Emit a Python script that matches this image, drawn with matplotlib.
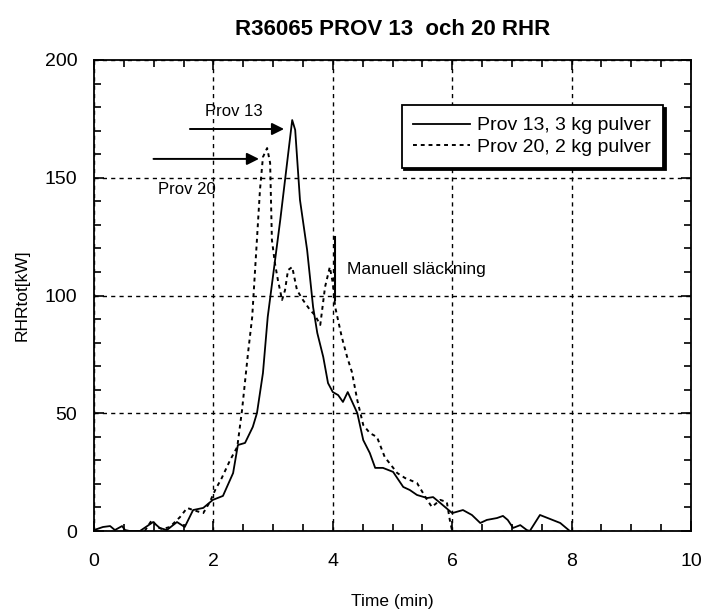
import matplotlib
matplotlib.use("Agg")
import matplotlib.pyplot as plt
from matplotlib.ticker import MultipleLocator

plt.rcParams['font.family'] = ['Liberation Sans', 'DejaVu Sans']

# ---- data ----
t13 = [0.0, 0.15, 0.27, 0.35, 0.47, 0.52, 0.6, 0.77, 0.99, 1.1, 1.22, 1.39, 1.52, 1.66,
       1.83, 1.99, 2.16, 2.33, 2.41, 2.53, 2.66, 2.73, 2.83, 2.91, 3.12, 3.32, 3.37, 3.45,
       3.57, 3.67, 3.74, 3.84, 3.92, 4.0, 4.09, 4.17, 4.25, 4.41, 4.51, 4.62, 4.71, 4.84,
       5.01, 5.18, 5.29, 5.41, 5.58, 5.68, 5.80, 6.0, 6.18, 6.33, 6.47, 6.58, 6.75, 6.85,
       6.93, 7.02, 7.14, 7.25, 7.30, 7.47, 7.64, 7.81, 7.97]
rhr13 = [0.4, 1.7, 2.1, 0.4, 2.1, 0.4, 0.0, 0.0, 3.8, 1.3, 0.4, 3.8, 1.7, 8.9,
         9.8, 13.2, 14.9, 24.6, 36.5, 37.4, 44.2, 50.1, 67.1, 90.9, 132.1, 174.5, 170.3, 140.6,
         119.3, 95.1, 84.1, 73.9, 62.8, 59.0, 57.7, 54.8, 59.0, 50.1, 38.6, 33.1, 26.8, 26.8,
         25.1, 18.7, 17.4, 15.3, 14.0, 14.4, 11.9, 7.6, 8.9, 6.8, 3.4, 4.7, 5.5, 6.4,
         4.7, 1.3, 2.5, 0.4, 0.0, 6.8, 5.1, 3.4, 0.0]

t20 = [0.85, 0.97, 1.06, 1.14, 1.27, 1.44, 1.56, 1.66, 1.83, 1.94, 2.03, 2.14, 2.28, 2.40,
       2.48, 2.58, 2.65, 2.78, 2.83, 2.90, 2.95, 2.98, 3.03, 3.08, 3.15, 3.20, 3.25, 3.32,
       3.40, 3.50, 3.62, 3.70, 3.79, 3.87, 3.95, 4.0, 4.04, 4.15, 4.24, 4.32, 4.41, 4.51,
       4.62, 4.74, 4.87, 5.08, 5.21, 5.41, 5.58, 5.66, 5.80, 5.91, 5.96, 6.0]
rhr20 = [0.0, 4.7, 1.7, 0.8, 1.7, 5.9, 9.8, 8.9, 7.6, 12.3, 17.4, 22.5, 30.1, 35.7,
         51.4, 75.6, 90.9, 144.8, 158.8, 162.6, 156.3, 123.6, 113.8, 106.6, 98.1, 102.3, 110.8, 112.1,
         102.3, 98.1, 93.8, 91.7, 87.5, 103.6, 112.1, 105.3, 95.1, 82.4, 73.9, 67.5, 55.6, 45.0,
         41.6, 39.9, 31.4, 24.6, 22.5, 20.4, 13.2, 10.2, 13.2, 12.3, 4.7, 0.0]

labels = ["Prov 13, 3 kg pulver", "Prov 20, 2 kg pulver"]
title = "R36065 PROV 13  och 20 RHR"
xlabel = "Time (min)"
ylabel = "RHRtot[kW]"
xticks = [0, 2, 4, 6, 8, 10]
yticks = [0, 50, 100, 150, 200]

# annotations
manual_x = 4.03
manual_y = [98, 125]
manual_text = "Manuell släckning"
arrow13 = ((1.56, 170.7), (3.23, 170.7))
arrow20 = ((0.95, 158.0), (2.81, 158.0))

fig = plt.figure(figsize=(7.07, 6.13), dpi=100)
ax = fig.add_axes([94/707, 1-531/613, (691-94)/707, (531-60)/613])

ax.plot(t13, rhr13, color='black', lw=1.3, linestyle='-', label=labels[0])
ax.plot(t20, rhr20, color='black', lw=1.4, linestyle=(0, (2, 2)), label=labels[1])

ax.plot([manual_x, manual_x], manual_y, color='black', lw=1.5)
ax.text(4.23, 111, manual_text, fontsize=12.5, va='center', ha='left')

ax.annotate("", xy=arrow13[1], xytext=arrow13[0],
            arrowprops=dict(arrowstyle='-|>', color='black', lw=1.4, mutation_scale=18))
ax.annotate("", xy=arrow20[1], xytext=arrow20[0],
            arrowprops=dict(arrowstyle='-|>', color='black', lw=1.4, mutation_scale=18))
ax.text(1.86, 178, "Prov 13", fontsize=12, va='center', ha='left')
ax.text(1.07, 145, "Prov 20", fontsize=12, va='center', ha='left')

ax.set_xlim(0, 10)
ax.set_ylim(0, 200)
ax.set_xticks(xticks)
ax.set_yticks(yticks)
ax.xaxis.set_minor_locator(MultipleLocator(0.5))
ax.yaxis.set_minor_locator(MultipleLocator(10))
ax.tick_params(which='both', direction='in', top=True, right=True, labelsize=14)
ax.tick_params(axis='x', pad=16)
ax.tick_params(axis='y', pad=12)
ax.tick_params(which='major', length=7, width=1.2)
ax.tick_params(which='minor', length=5, width=1.2)
ax.grid(True, which='major', color='black', lw=1.0, linestyle=(0, (3, 3)))
for s in ax.spines.values():
    s.set_linewidth(1.3)

ax.set_title(title, fontsize=16, fontweight='bold', pad=18)
ax.set_xlabel(xlabel, fontsize=12.5, labelpad=17)
ax.set_ylabel(ylabel, fontsize=12.5, labelpad=11)

leg = ax.legend(loc='upper right', bbox_to_anchor=(0.953, 0.904), borderaxespad=0,
                fontsize=14, handlelength=2.9, handletextpad=0.4, frameon=True,
                fancybox=False, shadow={'color': 'black', 'alpha': 1.0},
                borderpad=0.6, labelspacing=0.2)
leg.get_frame().set_edgecolor('black')
leg.get_frame().set_linewidth(1.3)
leg.get_frame().set_alpha(1.0)

fig.savefig("out.png", dpi=100)
